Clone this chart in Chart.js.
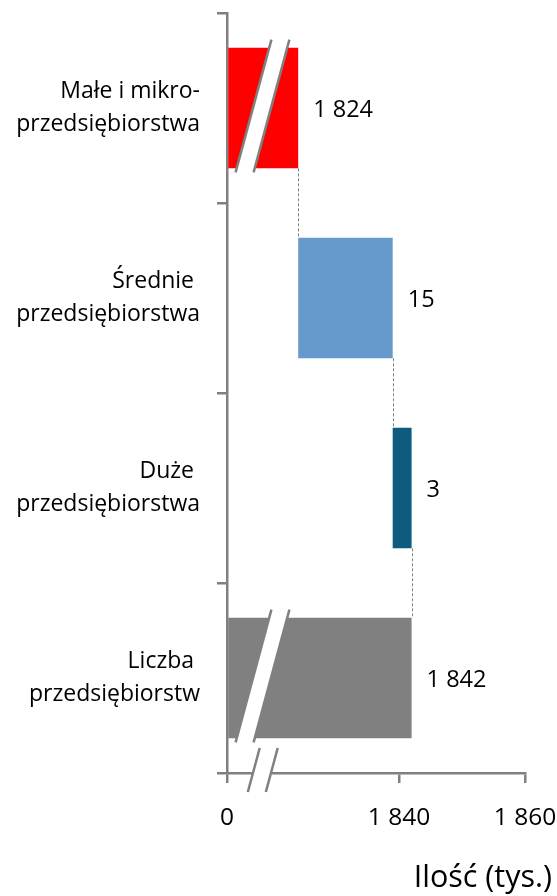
<!DOCTYPE html>
<html>
<head>
<meta charset="utf-8">
<script src="https://cdn.jsdelivr.net/npm/chart.js@4"></script>
<style>
  html, body { margin: 0; padding: 0; background: #fff; }
  #wrap { width: 557px; height: 896px; }
</style>
</head>
<body>
<div id="wrap"><canvas id="chart" width="557" height="896"></canvas></div>
<script>
"use strict";

// Data
const categories = [
  ["Małe i mikro-", "przedsiębiorstwa"],
  ["Średnie ", "przedsiębiorstwa"],
  ["Duże ", "przedsiębiorstwa"],
  ["Liczba ", "przedsiębiorstw"]
];
const stepValues = [1824, 15, 3];   // tys. przedsiębiorstw
const totalValue = 1842;
const xTickValues = [0, 1840, 1860];
const barColors = ["#FF0000", "#6699CC", "#0F5A7F", "#808080"];

// Broken axis: everything above the break is shifted down by axisShift
const axisShift = 1812.7;
const breakAt = 5.55;          // where the break marks sit, in axis units
const GRAY = "#808080";
const FONT = "'Open Sans'";

function toAxis(v) {
  return v <= 0 ? 0 : v - axisShift;
}

function formatNum(v) {
  return String(v).replace(/\B(?=(\d{3})+(?!\d))/g, " ");
}

const floating = [];
let cum = 0;
for (const v of stepValues) {
  floating.push([toAxis(cum), toAxis(cum + v)]);
  cum += v;
}
floating.push([0, toAxis(totalValue)]);
const labelValues = stepValues.concat([totalValue]);

function drawSlashes(ctx, xc, yc, yTop, yBot, halfGap) {
  const lean = 0.27;
  const xAt = (off, y) => xc + off + (yc - y) * lean;
  ctx.save();
  ctx.fillStyle = "#fff";
  ctx.beginPath();
  ctx.moveTo(xAt(-halfGap, yTop), yTop);
  ctx.lineTo(xAt(halfGap, yTop), yTop);
  ctx.lineTo(xAt(halfGap, yBot), yBot);
  ctx.lineTo(xAt(-halfGap, yBot), yBot);
  ctx.closePath();
  ctx.fill();
  ctx.strokeStyle = GRAY;
  ctx.lineWidth = 2.5;
  for (const off of [-halfGap, halfGap]) {
    ctx.beginPath();
    ctx.moveTo(xAt(off, yTop), yTop);
    ctx.lineTo(xAt(off, yBot), yBot);
    ctx.stroke();
  }
  ctx.restore();
}

function noScalePadding(scale) {
  scale.paddingTop = 0;
  scale.paddingBottom = 0;
  scale.paddingLeft = 0;
  scale.paddingRight = 0;
}

const waterfallExtras = {
  id: "waterfallExtras",
  afterDatasetsDraw(chart) {
    const ctx = chart.ctx;
    const xScale = chart.scales.x;
    const bars = chart.getDatasetMeta(0).data.map(b =>
      b.getProps(["x", "y", "base", "height"], true));

    // dashed connectors between steps
    ctx.save();
    ctx.strokeStyle = GRAY;
    ctx.lineWidth = 1;
    ctx.setLineDash([3, 2]);
    for (let i = 0; i < bars.length - 1; i++) {
      const a = bars[i], b = bars[i + 1];
      const x = Math.round(Math.max(a.x, a.base)) + 0.5;
      ctx.beginPath();
      ctx.moveTo(x, a.y + a.height / 2);
      ctx.lineTo(x, b.y - b.height / 2);
      ctx.stroke();
    }
    ctx.restore();

    // break marks on bars that start at zero
    const xBreak = xScale.getPixelForValue(breakAt);
    floating.forEach((d, i) => {
      if (d[0] === 0) {
        const b = bars[i];
        drawSlashes(ctx, xBreak, b.y, b.y - b.height / 2 - 8,
                    b.y + b.height / 2 + 4, 9);
      }
    });
    // break mark on the axis
    const yAxis = chart.chartArea.bottom;
    drawSlashes(ctx, xBreak, yAxis, yAxis - 25, yAxis + 19, 9);

    // value labels
    ctx.save();
    ctx.fillStyle = "#000";
    ctx.font = "23.5px " + FONT;
    ctx.textAlign = "left";
    ctx.textBaseline = "middle";
    bars.forEach((b, i) => {
      ctx.fillText(formatNum(labelValues[i]), Math.max(b.x, b.base) + 15, b.y + 2);
    });
    ctx.restore();

    // axis title
    ctx.save();
    ctx.fillStyle = "#000";
    ctx.font = "30.5px " + FONT;
    ctx.textAlign = "right";
    ctx.textBaseline = "alphabetic";
    ctx.fillText("Ilość (tys.)", 552, 887);
    ctx.restore();
  }
};

const ctx = document.getElementById("chart").getContext("2d");
new Chart(ctx, {
  type: "bar",
  data: {
    labels: categories,
    datasets: [{
      data: floating,
      backgroundColor: barColors,
      borderWidth: 0,
      categoryPercentage: 1,
      barPercentage: 0.635
    }]
  },
  options: {
    indexAxis: "y",
    responsive: false,
    animation: false,
    devicePixelRatio: 1,
    layout: { padding: { top: 13, right: 32, bottom: 0, left: 0 } },
    plugins: {
      legend: { display: false },
      tooltip: { enabled: false }
    },
    scales: {
      x: {
        type: "linear",
        min: 0,
        max: toAxis(1860),
        afterBuildTicks(scale) {
          scale.ticks = xTickValues.map(v => ({ value: toAxis(v) }));
        },
        afterFit(scale) {
          scale.height = 123;
          noScalePadding(scale);
        },
        ticks: {
          autoSkip: false,
          maxRotation: 0,
          padding: 20,
          color: "#000",
          font: { family: FONT, size: 24.5 },
          callback: (val, i) => formatNum(xTickValues[i])
        },
        grid: {
          drawOnChartArea: false,
          color: GRAY,
          lineWidth: 2.5,
          tickLength: 10
        },
        border: { color: GRAY, width: 2.5 }
      },
      y: {
        type: "category",
        afterFit(scale) {
          scale.width = 227;
          noScalePadding(scale);
        },
        ticks: {
          padding: 17,
          color: "#000",
          font: { family: FONT, size: 23, lineHeight: 1.4 }
        },
        grid: {
          offset: true,
          drawOnChartArea: false,
          color: GRAY,
          lineWidth: 2.5,
          tickLength: 10
        },
        border: { color: GRAY, width: 2.5 }
      }
    }
  },
  plugins: [waterfallExtras]
});
</script>
</body>
</html>
